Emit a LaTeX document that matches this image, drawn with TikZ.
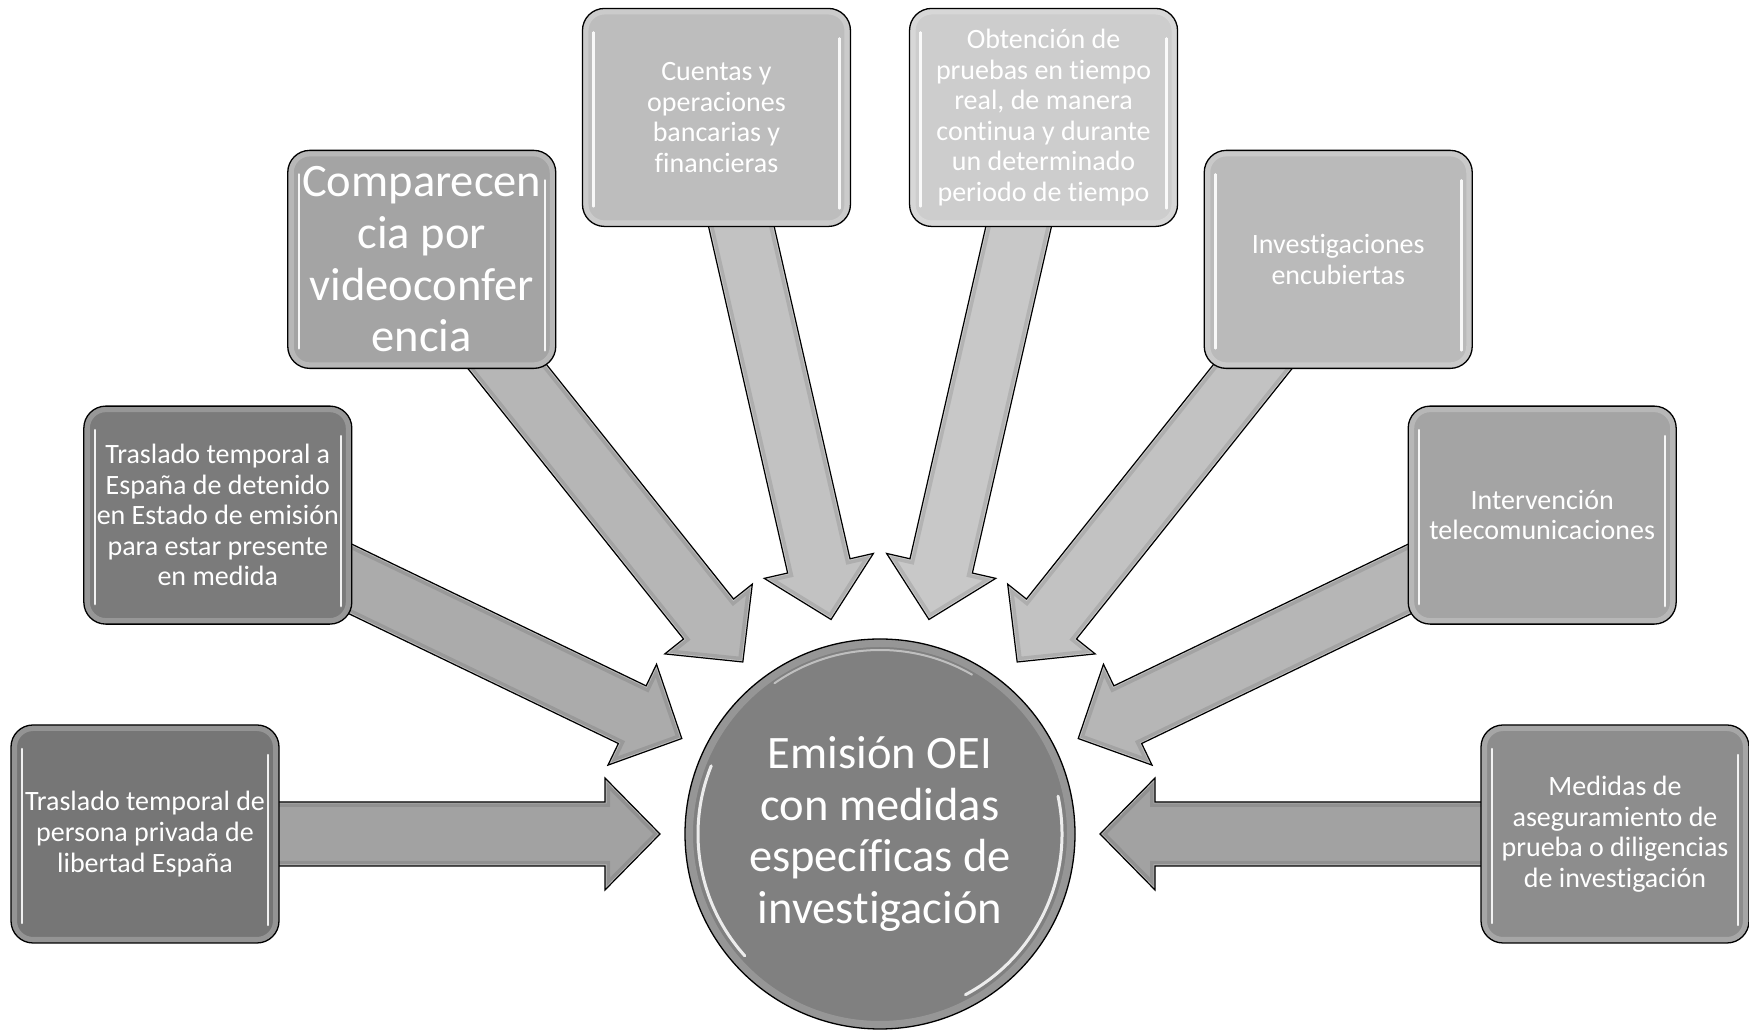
\documentclass[tikz,border=0pt]{standalone}
\usepackage{fontspec}
\newfontfamily\carlito[Ligatures={NoCommon}]{Carlito}
\usetikzlibrary{calc}
\pgfdeclarelayer{back}
\pgfdeclarelayer{arrows}
\pgfsetlayers{back,arrows,main}
\definecolor{cb1}{HTML}{767676}
\definecolor{cb2}{HTML}{7B7B7B}
\definecolor{cb3}{HTML}{A4A4A4}
\definecolor{cb4}{HTML}{BDBDBD}
\definecolor{cb5}{HTML}{CDCDCD}
\definecolor{cb6}{HTML}{BABABA}
\definecolor{cb7}{HTML}{A4A4A4}
\definecolor{cb8}{HTML}{8D8D8D}
\definecolor{ccirc}{HTML}{808080}
\definecolor{ca1}{HTML}{A2A2A2}
\definecolor{ca2}{HTML}{ABABAB}
\definecolor{ca3}{HTML}{B6B6B6}
\definecolor{ca4}{HTML}{C2C2C2}
\definecolor{ca5}{HTML}{C8C8C8}
\definecolor{ca6}{HTML}{C2C2C2}
\definecolor{ca7}{HTML}{B6B6B6}
\definecolor{ca8}{HTML}{A2A2A2}
\newcommand\smallf{\carlito\fontsize{28}{30.6}\selectfont}
\newcommand\bigf{\carlito\fontsize{46.5}{51.6}\selectfont}
\newcommand\blockarr[2]{%
  \def\arrpath{($(c)!220pt!(#1)$) -- ($(c)!275pt!(#1)!56pt!90:(#1)$) -- ($(c)!275pt!(#1)!32pt!90:(#1)$) -- ($(#1)!32pt!-90:(c)$) -- ($(#1)!32pt!90:(c)$) -- ($(c)!275pt!(#1)!32pt!-90:(#1)$) -- ($(c)!275pt!(#1)!56pt!-90:(#1)$) -- cycle}%
  \fill[#2] \arrpath;
  \begin{scope}
    \clip \arrpath;
    \draw[line width=10pt, black, opacity=.10] \arrpath;
    \draw[line width=3pt, white, opacity=.35] \arrpath;
  \end{scope}
  \draw[black, line width=1.2pt, line join=miter] \arrpath;
}
\tikzset{
  box/.style={draw=black, line width=1.3pt, rounded corners=22pt,
    minimum width=268pt, minimum height=218pt, inner sep=0pt,
    align=center, text=white, font=\smallf,
    path picture={
      \draw[white, opacity=.22, line width=12pt, rounded corners=22pt]
        (path picture bounding box.south west) rectangle (path picture bounding box.north east);
      \draw[white, line width=2.5pt, line cap=round, opacity=.9]
        ([xshift=11pt,yshift=-24pt]path picture bounding box.north west) --
        ([xshift=11pt,yshift=20pt]path picture bounding box.south west);
      \draw[white, line width=2.5pt, line cap=round, opacity=.9]
        ([xshift=-11pt,yshift=-30pt]path picture bounding box.north east) --
        ([xshift=-11pt,yshift=18pt]path picture bounding box.south east);
    }},
  hub/.style={circle, draw=black, line width=1.3pt, minimum size=390pt,
    inner sep=0pt, fill=ccirc, align=center, text=white, font=\bigf,
    path picture={
      \draw[white, opacity=.18, line width=16pt]
        (path picture bounding box.center) circle[radius=195pt];
      \draw[white, line width=3pt, line cap=round, opacity=.85]
        ([shift={(158:182pt)}]path picture bounding box.center) arc[start angle=158, end angle=222, radius=182pt];
      \draw[white, line width=3pt, line cap=round, opacity=.85]
        ([shift={(-62:182pt)}]path picture bounding box.center) arc[start angle=-62, end angle=12, radius=182pt];
      \draw[white, line width=2pt, line cap=round, opacity=.5]
        ([shift={(60:184pt)}]path picture bounding box.center) arc[start angle=60, end angle=125, radius=184pt];
    }}
}
\begin{document}
\begin{tikzpicture}[x=1pt,y=1pt]
\begin{pgfonlayer}{back}
  \fill[white] (0,0) rectangle (1749,1033);
\end{pgfonlayer}
\useasboundingbox (0,0) rectangle (1749,1033);
\coordinate (c0) at (880,199);
\node[box, fill=cb1] (b1) at ($(c0)+(180:735)$) {Traslado temporal de\\persona privada de\\libertad España};
\node[box, fill=cb2] (b2) at ($(c0)+(154.2857:735)$) {Traslado temporal a\\España de detenido\\en Estado de emisión\\para estar presente\\en medida};
\node[box, fill=cb3, font=\bigf] (b3) at ($(c0)+(128.5714:735)$) {Comparecen\\cia por\\videoconfer\\encia};
\node[box, fill=cb4] (b4) at ($(c0)+(102.8571:735)$) {Cuentas y\\operaciones\\bancarias y\\financieras};
\node[box, fill=cb5] (b5) at ($(c0)+(77.1429:735)$) {Obtención de\\pruebas en tiempo\\real, de manera\\continua y durante\\un determinado\\periodo de tiempo};
\node[box, fill=cb6] (b6) at ($(c0)+(51.4286:735)$) {Investigaciones\\encubiertas};
\node[box, fill=cb7] (b7) at ($(c0)+(25.7143:735)$) {Intervención\\telecomunicaciones};
\node[box, fill=cb8] (b8) at ($(c0)+(0:735)$) {Medidas de\\aseguramiento de\\prueba o diligencias\\de investigación};
\node[hub] (c) at (c0) {Emisión OEI\\con medidas\\específicas de\\investigación};
\begin{pgfonlayer}{arrows}
  \blockarr{b1}{ca1}
  \blockarr{b2}{ca2}
  \blockarr{b3}{ca3}
  \blockarr{b4}{ca4}
  \blockarr{b5}{ca5}
  \blockarr{b6}{ca6}
  \blockarr{b7}{ca7}
  \blockarr{b8}{ca8}
\end{pgfonlayer}
\end{tikzpicture}
\end{document}
